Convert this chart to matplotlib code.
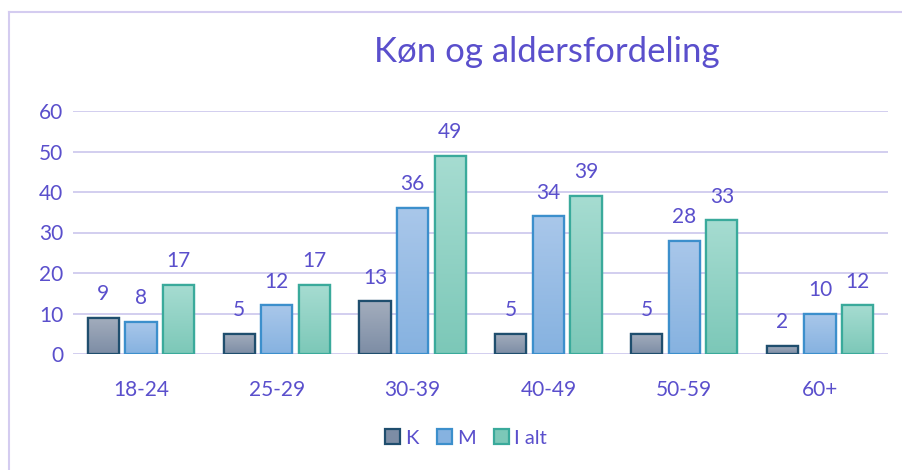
import numpy as np
import matplotlib.pyplot as plt
from matplotlib.colors import LinearSegmentedColormap
from matplotlib.lines import Line2D
from matplotlib.patches import Patch

plt.rcParams['font.family'] = ['Lato', 'DejaVu Sans']

groups = ['18-24', '25-29', '30-39', '40-49', '50-59', '60+']
k = [9, 5, 13, 5, 5, 2]
m = [8, 12, 36, 34, 28, 10]
i_alt = [17, 17, 49, 39, 33, 12]
series_names = ['K', 'M', 'I alt']

txt = '#5A4FCC'
grid_c = '#CFCAEE'
fills = [('#A3ADBD', '#7D8DA5'), ('#A9C7EA', '#86B2E0'), ('#A6DCD1', '#7CC8B8')]
edges = ['#1F4E6E', '#3C8FCC', '#3AAA9B']

fig = plt.figure(figsize=(9.03, 4.7), dpi=100)
ax = fig.add_axes([73 / 903, 1 - 354 / 470, 815 / 903, 243 / 470])

x = np.arange(len(groups))
w = 0.23
step = 0.277
for j, vals in enumerate([k, m, i_alt]):
    pos = x + (j - 1) * step
    bars = ax.bar(pos, vals, w, color=fills[j][1], edgecolor=edges[j], linewidth=1.6, zorder=3)
    cmap = LinearSegmentedColormap.from_list('g%d' % j, [fills[j][1], fills[j][0]])
    grad = np.linspace(0, 1, 100).reshape(-1, 1)
    for b in bars:
        bx, by = b.get_x(), b.get_y()
        bw, bh = b.get_width(), b.get_height()
        im = ax.imshow(grad, cmap=cmap, aspect='auto', origin='lower',
                       extent=[bx, bx + bw, by, by + bh], zorder=3.5)
        im.set_clip_path(b)
        ax.bar(b.get_x() + bw / 2, bh, bw, fill=False, edgecolor=edges[j], linewidth=1.6, zorder=4)
    for p, v in zip(pos, vals):
        ax.text(p, v + 3.4, str(v), ha='center', va='bottom', color=txt, fontsize=15)

ax.set_xlim(-0.5, len(groups) - 0.5)
ax.set_ylim(0, 60)
ax.set_yticks(range(0, 61, 10))
ax.set_xticks(x)
ax.set_xticklabels(groups)
ax.tick_params(colors=txt, labelsize=15, length=0)
ax.tick_params(axis='x', pad=19)
ax.tick_params(axis='y', pad=7)
ax.grid(axis='y', color=grid_c, linewidth=1.3, zorder=0)
for s in ax.spines.values():
    s.set_visible(False)

fig.text(547 / 903, 1 - 52 / 470, 'Køn og aldersfordeling', ha='center', va='center',
         color=txt, fontsize=25)

handles = [Patch(facecolor=fills[j][1], edgecolor=edges[j], linewidth=1.6) for j in range(3)]
fig.legend(handles, series_names, loc='center', bbox_to_anchor=(466 / 903, 1 - 438 / 470),
           ncol=3, frameon=False, fontsize=14.5, labelcolor=txt, handlelength=0.75,
           handleheight=0.75, handletextpad=0.25, columnspacing=0.9)

fig.add_artist(Line2D([8.5 / 903, 8.5 / 903], [0, 1 - 12 / 470], color='#D4CCF0', linewidth=1.5))
fig.add_artist(Line2D([8.5 / 903, 1], [1 - 12 / 470, 1 - 12 / 470], color='#D4CCF0', linewidth=1.5))

fig.savefig('out.png', dpi=100)
